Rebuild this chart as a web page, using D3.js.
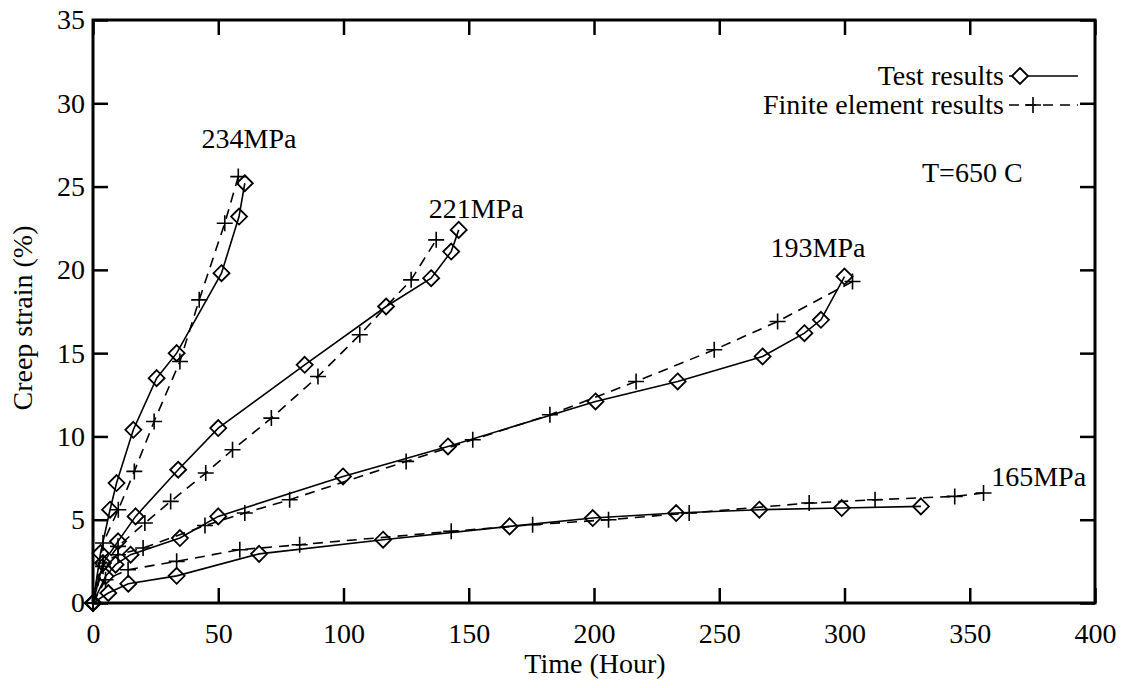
<!DOCTYPE html>
<html>
<head>
<meta charset="utf-8">
<script src="https://cdn.jsdelivr.net/npm/d3@7"></script>
<style>
  body { margin: 0; background: #fff; }
  text { font-family: "Liberation Serif", "DejaVu Serif", serif; fill: #000; }
</style>
</head>
<body>
<svg id="chart"></svg>
<script>
const width = 1136;
const height = 688;
const plotLeft = 93, plotRight = 1095, plotTop = 20, plotBottom = 603;

// test results (diamonds, solid) and finite element results (plus, dashed), [hour, strain %]
const test234 = [[0, 0], [3, 3.0], [6.8, 5.6], [9.4, 7.2], [16.1, 10.4], [25.4, 13.5], [33.4, 15.0], [51.3, 19.8], [58.3, 23.2], [60.6, 25.2]];
const fe234 = [[0, 0], [4, 3.6], [10.1, 5.6], [16.5, 7.9], [24.4, 10.9], [34.7, 14.5], [42.4, 18.2], [52.6, 22.8], [58, 25.6]];
const test221 = [[0, 0], [4, 2.4], [10, 3.7], [17, 5.2], [34, 8.0], [50, 10.5], [84.5, 14.3], [117, 17.8], [135, 19.5], [143, 21.1], [146, 22.4]];
const fe221 = [[0, 0], [4, 2.2], [10, 3.4], [20.7, 4.8], [31, 6.1], [45, 7.8], [55.7, 9.2], [71.2, 11.1], [89.8, 13.6], [106.5, 16.1], [127, 19.4], [137, 21.8]];
const test193 = [[0, 0], [5, 1.6], [9, 2.3], [15, 2.9], [34.7, 3.9], [50, 5.2], [99.8, 7.6], [141.7, 9.4], [200.6, 12.1], [233.4, 13.3], [267.3, 14.8], [284, 16.2], [290.6, 17.0], [300, 19.6]];
const fe193 = [[0, 0], [4, 2.4], [10, 2.9], [20, 3.3], [44.7, 4.65], [60.6, 5.4], [78.5, 6.2], [125, 8.5], [151.6, 9.8], [182.4, 11.3], [216.8, 13.3], [248, 15.2], [273.3, 16.9], [303.2, 19.3]];
const test165 = [[0, 0], [6.1, 0.6], [14.1, 1.16], [33.4, 1.63], [66.3, 2.95], [115.8, 3.8], [166.3, 4.6], [199.5, 5.1], [232.8, 5.4], [266, 5.6], [298.9, 5.7], [330.5, 5.8]];
const fe165 = [[0, 0], [5, 1.4], [14, 2.0], [33.4, 2.5], [58.6, 3.2], [82.5, 3.5], [143, 4.3], [175.5, 4.7], [205.8, 5.0], [238, 5.4], [285.9, 6.0], [312.2, 6.2], [344, 6.4], [355.5, 6.6]];

const testSeries = [test234, test221, test193, test165];
const feSeries = [fe234, fe221, fe193, fe165];

const stressLabels = [
  {text: '234MPa', x: 62.3, y: 27.3},
  {text: '221MPa', x: 153, y: 23.1},
  {text: '193MPa', x: 289.4, y: 20.8},
  {text: '165MPa', x: 377.5, y: 7.0}
];
const xTicks = [0, 50, 100, 150, 200, 250, 300, 350, 400];
const yTicks = [0, 5, 10, 15, 20, 25, 30, 35];

const svg = d3.select('#chart')
    .attr('width', width)
    .attr('height', height);

const x = d3.scaleLinear().domain([0, 400]).range([plotLeft, plotRight]);
const y = d3.scaleLinear().domain([0, 35]).range([plotBottom, plotTop]);

const tickLen = 15;
const fontSize = 28;

function styleAxis(g) {
    g.select('.domain').remove();
    g.selectAll('.tick line').attr('stroke', '#000').attr('stroke-width', 2.5);
    g.selectAll('.tick text').style('font-size', fontSize + 'px').attr('font-family', null);
}

svg.append('g').attr('transform', `translate(0, ${plotBottom})`)
    .call(d3.axisBottom(x).tickValues(xTicks).tickSize(-tickLen).tickPadding(20).tickFormat(d3.format('d')))
    .call(styleAxis);
svg.append('g').attr('transform', `translate(0, ${plotTop})`)
    .call(d3.axisTop(x).tickValues(xTicks).tickSize(-tickLen).tickFormat(''))
    .call(styleAxis);
svg.append('g').attr('transform', `translate(${plotLeft}, 0)`)
    .call(d3.axisLeft(y).tickValues(yTicks).tickSize(-tickLen).tickPadding(8).tickFormat(d3.format('d')))
    .call(styleAxis);
svg.append('g').attr('transform', `translate(${plotRight}, 0)`)
    .call(d3.axisRight(y).tickValues(yTicks).tickSize(-tickLen).tickFormat(''))
    .call(styleAxis);

svg.append('rect')
    .attr('x', plotLeft).attr('y', plotTop)
    .attr('width', plotRight - plotLeft).attr('height', plotBottom - plotTop)
    .attr('fill', 'none').attr('stroke', '#000').attr('stroke-width', 3);

const line = d3.line().x(d => x(d[0])).y(d => y(d[1]));
const diamond = 'M0,-8L8,0L0,8L-8,0Z';
const plus = 'M-8,0H8M0,-8V8';

// finite element curves
svg.selectAll('.fe-line').data(feSeries).enter().append('path')
    .attr('class', 'fe-line')
    .attr('d', line)
    .attr('fill', 'none')
    .attr('stroke', '#000')
    .attr('stroke-width', 1.6)
    .attr('stroke-dasharray', '10,7');

feSeries.forEach(s => {
    svg.append('g').selectAll('path').data(s).enter().append('path')
        .attr('transform', d => `translate(${x(d[0])}, ${y(d[1])})`)
        .attr('d', plus)
        .attr('stroke', '#000')
        .attr('stroke-width', 1.6);
});

// test curves
svg.selectAll('.test-line').data(testSeries).enter().append('path')
    .attr('class', 'test-line')
    .attr('d', line)
    .attr('fill', 'none')
    .attr('stroke', '#000')
    .attr('stroke-width', 1.6);

testSeries.forEach(s => {
    svg.append('g').selectAll('path').data(s).enter().append('path')
        .attr('transform', d => `translate(${x(d[0])}, ${y(d[1])})`)
        .attr('d', diamond)
        .attr('fill', 'none')
        .attr('stroke', '#000')
        .attr('stroke-width', 1.8);
});

// stress labels
svg.selectAll('.stress').data(stressLabels).enter().append('text')
    .attr('class', 'stress')
    .attr('x', d => x(d.x))
    .attr('y', d => y(d.y))
    .attr('text-anchor', 'middle')
    .style('font-size', fontSize + 'px')
    .text(d => d.text);

svg.append('text')
    .attr('x', 922).attr('y', 182)
    .style('font-size', fontSize + 'px')
    .text('T=650 C');

// legend
const legend = svg.append('g');
legend.append('text').attr('x', 1004).attr('y', 85)
    .attr('text-anchor', 'end').style('font-size', fontSize + 'px').text('Test results');
legend.append('line').attr('x1', 1009).attr('x2', 1078).attr('y1', 76).attr('y2', 76)
    .attr('stroke', '#000').attr('stroke-width', 1.6);
legend.append('path').attr('transform', 'translate(1020, 76)').attr('d', diamond)
    .attr('fill', '#fff').attr('stroke', '#000').attr('stroke-width', 1.8);

legend.append('text').attr('x', 1004).attr('y', 114)
    .attr('text-anchor', 'end').style('font-size', fontSize + 'px').text('Finite element results');
legend.append('line').attr('x1', 1009).attr('x2', 1078).attr('y1', 105).attr('y2', 105)
    .attr('stroke', '#000').attr('stroke-width', 1.6).attr('stroke-dasharray', '10,7');
legend.append('path').attr('transform', 'translate(1033, 105)').attr('d', plus)
    .attr('stroke', '#000').attr('stroke-width', 1.6);

// axis titles
svg.append('text')
    .attr('x', 595).attr('y', 673)
    .attr('text-anchor', 'middle')
    .style('font-size', fontSize + 'px')
    .text('Time (Hour)');

svg.append('text')
    .attr('transform', 'translate(32, 318) rotate(-90)')
    .attr('text-anchor', 'middle')
    .style('font-size', fontSize + 'px')
    .text('Creep strain (%)');
</script>
</body>
</html>
